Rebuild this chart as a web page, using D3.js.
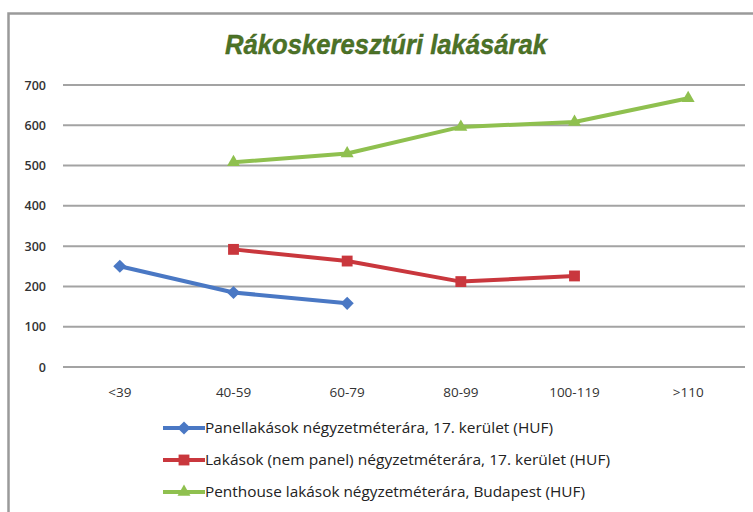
<!DOCTYPE html>
<html>
<head>
<meta charset="utf-8">
<script src="https://cdn.jsdelivr.net/npm/d3@7"></script>
<style>
  html, body { margin: 0; padding: 0; background: #fff; }
  svg { display: block; }
</style>
</head>
<body>
<svg id="chart" width="753" height="512"></svg>
<script>
// Size bands (m²) and price series
const categories = ["<39", "40-59", "60-79", "80-99", "100-119", ">110"];
const panelValues = [250, 185, 158, null, null, null];
const otherValues = [null, 292, 263, 212, 226, null];
const penthouseValues = [null, 508, 530, 596, 608, 667];
const yTicks = [0, 100, 200, 300, 400, 500, 600, 700];
const seriesNames = [
  "Panellakások négyzetméterára, 17. kerület (HUF)",
  "Lakások (nem panel) négyzetméterára, 17. kerület (HUF)",
  "Penthouse lakások négyzetméterára, Budapest (HUF)"
];
const chartTitle = "Rákoskeresztúri lakásárak";

const series = [
  { name: seriesNames[0], values: panelValues, color: "#4a78c4", symbol: d3.symbolDiamond2, size: 110, textLen: 348 },
  { name: seriesNames[1], values: otherValues, color: "#c9373d", symbol: d3.symbolSquare2, size: 150, textLen: 405 },
  { name: seriesNames[2], values: penthouseValues, color: "#8fc04f", symbol: d3.symbolTriangle2, size: 120, textLen: 380 }
];

const svg = d3.select("#chart");

// Outer chart frame
svg.append("rect")
  .attr("x", 8.5).attr("y", 13.5)
  .attr("width", 760).attr("height", 520)
  .attr("fill", "none").attr("stroke", "#9a9a9a").attr("stroke-width", 2.5);

const x = d3.scaleBand().domain(categories).range([63, 745]);
const y = d3.scaleLinear().domain([0, 700]).range([367, 85]);

// Horizontal gridlines
svg.append("g").selectAll("line").data(yTicks).join("line")
  .attr("x1", 63).attr("x2", 745)
  .attr("y1", d => y(d)).attr("y2", d => y(d))
  .attr("stroke", "#a3a3a3").attr("stroke-width", 2);

// Y axis labels
svg.append("g").selectAll("text").data(yTicks).join("text")
  .attr("x", 46).attr("y", d => y(d) + 4.5)
  .attr("text-anchor", "end")
  .attr("font-family", "'Open Sans', sans-serif")
  .attr("font-size", 12.5).attr("font-weight", 600)
  .attr("fill", "#333")
  .text(d => d);

// X axis labels
svg.append("g").selectAll("text").data(categories).join("text")
  .attr("x", d => x(d) + x.bandwidth() / 2).attr("y", 397)
  .attr("text-anchor", "middle")
  .attr("font-family", "'Open Sans', sans-serif")
  .attr("font-size", 13.5)
  .attr("fill", "#333")
  .text(d => d);

// Title
svg.append("text")
  .attr("x", 225).attr("y", 54)
  .attr("textLength", 322).attr("lengthAdjust", "spacingAndGlyphs")
  .attr("font-family", "'Liberation Sans', Arial, sans-serif")
  .attr("font-size", 28).attr("font-weight", "bold").attr("font-style", "italic")
  .attr("fill", "#4c7326")
  .attr("stroke", "#3e5e1f").attr("stroke-width", 0.4)
  .text(chartTitle);

const line = d3.line()
  .defined(d => d.v != null)
  .x(d => x(d.c) + x.bandwidth() / 2)
  .y(d => y(d.v));

series.forEach(s => {
  const pts = categories.map((c, i) => ({ c, v: s.values[i] }));
  svg.append("path")
    .datum(pts)
    .attr("d", line)
    .attr("fill", "none")
    .attr("stroke", s.color).attr("stroke-width", 4)
    .attr("stroke-linejoin", "round");
  svg.append("g").selectAll("path").data(pts.filter(d => d.v != null)).join("path")
    .attr("d", d3.symbol().type(s.symbol).size(s.size))
    .attr("transform", d => `translate(${x(d.c) + x.bandwidth() / 2},${y(d.v)})`)
    .attr("fill", s.color);
});

// Legend
const legendY = [428, 460, 492];
series.forEach((s, i) => {
  const g = svg.append("g").attr("transform", `translate(0,${legendY[i]})`);
  g.append("line").attr("x1", 163).attr("x2", 205).attr("y1", 0).attr("y2", 0)
    .attr("stroke", s.color).attr("stroke-width", 4);
  g.append("path")
    .attr("d", d3.symbol().type(s.symbol).size(s.size))
    .attr("transform", "translate(184,0)")
    .attr("fill", s.color);
  g.append("text")
    .attr("x", 205).attr("y", 5)
    .attr("textLength", s.textLen).attr("lengthAdjust", "spacingAndGlyphs")
    .attr("font-family", "'Open Sans', sans-serif")
    .attr("font-size", 14.5)
    .attr("fill", "#222")
    .text(s.name);
});
</script>
</body>
</html>
